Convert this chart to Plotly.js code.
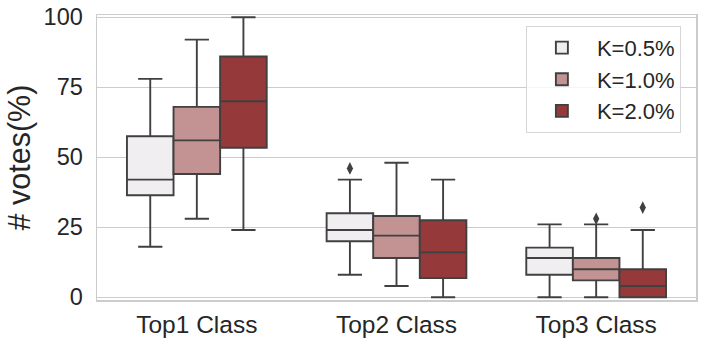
<!DOCTYPE html>
<html>
<head>
<meta charset="utf-8">
<script src="https://cdn.plot.ly/plotly-3.0.1.min.js"></script>
<style>html,body{margin:0;padding:0;background:#fff;}#chart{width:706px;height:344px;}</style>
</head>
<body>
<div id="chart"></div>
<script>
const categories = ['Top1 Class', 'Top2 Class', 'Top3 Class'];
const seriesNames = ['K=0.5%', 'K=1.0%', 'K=2.0%'];
const seriesColors = ['#f0eef0', '#c39394', '#95393a'];

// per series: values for Top1, Top2, Top3
const lowerK05 = [18, 8, 0];
const q1K05 = [36.4, 20, 8];
const medK05 = [42, 24, 14];
const q3K05 = [57.5, 30, 17.7];
const upperK05 = [78, 42, 26];
const outK05 = [null, 46, null];

const lowerK10 = [28, 4, 0];
const q1K10 = [44, 14, 6];
const medK10 = [56, 22, 10];
const q3K10 = [68, 29, 14];
const upperK10 = [92, 48, 26];
const outK10 = [null, null, 28];

const lowerK20 = [24, 0, 0];
const q1K20 = [53.4, 6.8, 0];
const medK20 = [70, 16, 4];
const q3K20 = [86, 27.5, 10];
const upperK20 = [100, 42, 24];
const outK20 = [null, null, 32];

const yTickVals = [0, 25, 50, 75, 100];

const stats = [
  [lowerK05, q1K05, medK05, q3K05, upperK05, outK05],
  [lowerK10, q1K10, medK10, q3K10, upperK10, outK10],
  [lowerK20, q1K20, medK20, q3K20, upperK20, outK20]
];

const traces = [];
stats.forEach((s, i) => {
  traces.push({
    type: 'box',
    name: seriesNames[i],
    x: categories,
    lowerfence: s[0],
    q1: s[1],
    median: s[2],
    q3: s[3],
    upperfence: s[4],
    boxpoints: false,
    offsetgroup: 'g' + i,
    alignmentgroup: 'a',
    fillcolor: seriesColors[i],
    line: {color: '#404040', width: 1.9},
    whiskerwidth: 0.52,
    hoverinfo: 'skip'
  });
});
stats.forEach((s, i) => {
  traces.push({
    type: 'scatter',
    mode: 'markers',
    name: seriesNames[i] + ' outliers',
    showlegend: false,
    x: categories,
    y: s[5],
    offsetgroup: 'g' + i,
    alignmentgroup: 'a',
    marker: {symbol: 'diamond-tall', size: 9, color: '#404040', line: {width: 0}},
    hoverinfo: 'skip'
  });
});

const layout = {
  width: 706,
  height: 344,
  margin: {l: 97, r: 10, t: 15, b: 44},
  paper_bgcolor: '#ffffff',
  plot_bgcolor: '#ffffff',
  font: {family: 'Liberation Sans, Arial, sans-serif', color: '#262626'},
  boxmode: 'group',
  boxgap: 0.3,
  boxgroupgap: 0,
  scattermode: 'group',
  scattergap: 0.3,
  showlegend: true,
  legend: {
    x: 0.716, y: 0.962, xanchor: 'left', yanchor: 'top',
    bgcolor: 'rgba(255,255,255,0.8)',
    bordercolor: '#d6d6d6', borderwidth: 1,
    font: {size: 22, color: '#262626'},
    itemwidth: 60
  },
  xaxis: {
    type: 'category',
    range: [-0.5, 2.5],
    showgrid: false,
    zeroline: false,
    showline: true, mirror: true, linecolor: '#cccccc', linewidth: 1.5,
    ticks: '',
    ticklabelstandoff: 2,
    tickfont: {size: 24.5, color: '#262626'},
    automargin: false
  },
  yaxis: {
    range: [-1, 100.8],
    tickvals: yTickVals,
    ticktext: yTickVals.map(String),
    showgrid: true, gridcolor: '#cccccc', gridwidth: 1,
    zeroline: false,
    showline: true, mirror: true, linecolor: '#cccccc', linewidth: 1.5,
    ticks: '',
    ticklabelstandoff: 8,
    tickfont: {size: 23.5, color: '#262626'},
    title: {text: '# votes(%)', font: {size: 30.5, color: '#262626'}, standoff: 4},
    automargin: false
  }
};

Plotly.newPlot('chart', traces, layout, {displayModeBar: false, staticPlot: true});
</script>
</body>
</html>
